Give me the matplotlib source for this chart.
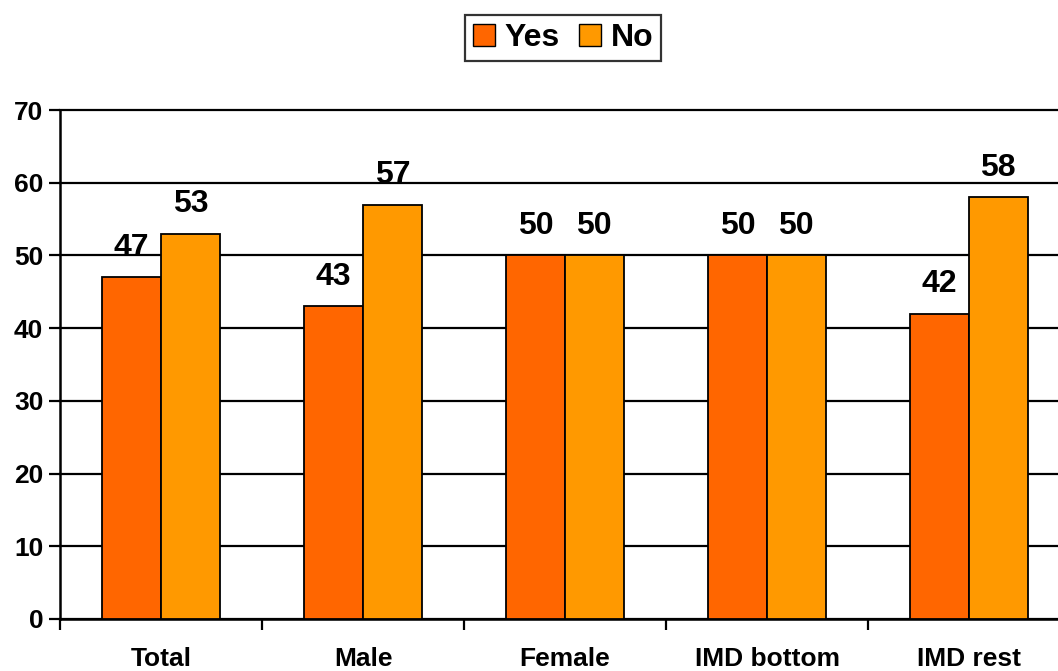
import matplotlib.pyplot as plt
import numpy as np
from matplotlib.patches import Patch

plt.rcParams['font.family'] = ['Liberation Sans', 'DejaVu Sans']
plt.rcParams['font.weight'] = 'bold'

categories = ['Total', 'Male', 'Female', 'IMD bottom', 'IMD rest']
yes_vals = [47, 43, 50, 50, 42]
no_vals = [53, 57, 50, 50, 58]

c_yes = '#FF6600'
c_no = '#FF9900'

fig = plt.figure(figsize=(10.58, 6.71), dpi=100)
ax = fig.add_axes([60/1058, 52/671, 1010/1058, 509/671])

x = np.arange(len(categories))
w = 0.29
b1 = ax.bar(x - w/2, yes_vals, w, color=c_yes, edgecolor='black', linewidth=1.3, zorder=3)
b2 = ax.bar(x + w/2, no_vals, w, color=c_no, edgecolor='black', linewidth=1.3, zorder=3)

for bars, vals in ((b1, yes_vals), (b2, no_vals)):
    for r, v in zip(bars, vals):
        ax.text(r.get_x() + r.get_width()/2, v + 2.0, str(v), ha='center', va='bottom',
                fontsize=23, fontweight='bold')

ax.set_xlim(-0.5, 4.5)
ax.set_ylim(0, 70)
ax.set_yticks(range(0, 71, 10))
ax.yaxis.grid(True, color='black', linewidth=1.6, zorder=0)
for gl in ax.get_ygridlines():
    gl.set_clip_on(False)
ax.set_xticks(np.arange(-0.5, 4.6, 1))
ax.set_xticklabels([])
ax.set_xticks(x, minor=True)
ax.set_xticklabels(categories, minor=True)
ax.tick_params(axis='x', which='minor', length=0, pad=20, labelsize=19)
ax.tick_params(axis='x', which='major', length=8, width=1.6, direction='out')
ax.tick_params(axis='y', length=8, width=1.6, labelsize=19, pad=4)
for s in ['top', 'right']:
    ax.spines[s].set_visible(False)
ax.spines['left'].set_linewidth(1.8)
ax.spines['bottom'].set_linewidth(1.8)

handles = [Patch(facecolor=c_yes, edgecolor='black', label='Yes'),
           Patch(facecolor=c_no, edgecolor='black', label='No')]
leg = fig.legend(handles=handles, loc='center', bbox_to_anchor=(563/1058, 1 - 38/671), ncol=2,
                 fontsize=23, frameon=True, fancybox=False, edgecolor='black',
                 handlelength=0.7, handleheight=0.7, handletextpad=0.3, columnspacing=0.6,
                 borderpad=0.25)
leg.get_frame().set_linewidth(1.6)
for t in leg.get_texts():
    t.set_fontweight('bold')

fig.savefig('out.png', dpi=100)
